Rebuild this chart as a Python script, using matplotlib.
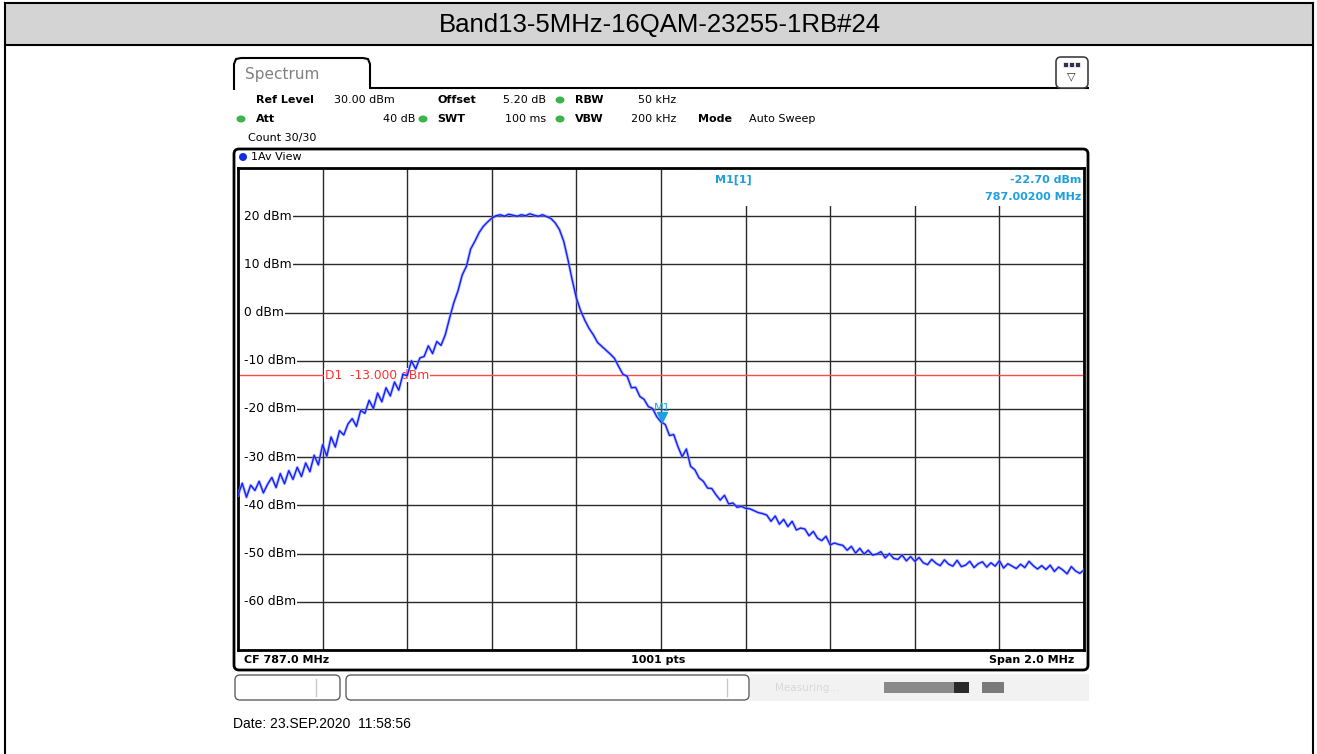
import numpy as np
import matplotlib
matplotlib.use("Agg")
import matplotlib.pyplot as plt
from matplotlib import patches
from matplotlib.path import Path

level = [
    -37.9, -35.4, -38.3, -35.8, -36.9, -35.0, -37.4, -35.6, -34.2, -36.3,
    -33.4, -35.5, -32.8, -34.6, -32.1, -34.0, -31.2, -33.0, -29.6, -31.6,
    -27.4, -29.8, -25.8, -27.9, -24.5, -25.4, -23.1, -22.0, -23.6, -20.3,
    -20.9, -18.2, -19.9, -16.7, -18.5, -15.6, -17.3, -14.4, -16.1, -12.8,
    -13.1, -10.0, -11.7, -9.4, -9.1, -6.9, -8.5, -6.0, -6.8, -4.6,
    -1.2, 2.0, 4.5, 7.8, 9.6, 13.2, 14.8, 16.6, 17.9, 18.8,
    19.6, 20.1, 20.3, 20.0, 20.4, 20.2, 20.0, 20.3, 20.1, 20.5,
    20.2, 20.0, 20.3, 19.9, 19.5, 18.6, 17.2, 14.8, 11.0, 6.8,
    3.0, 0.4, -1.6, -3.3, -4.6, -6.2, -7.0, -7.8, -8.6, -9.5,
    -11.2, -12.8, -13.2, -15.6, -15.5, -17.4, -18.0, -19.5, -19.9, -21.6,
    -22.7, -23.2, -25.5, -25.3, -27.8, -29.9, -28.3, -31.9, -32.6, -34.3,
    -35.0, -36.4, -36.5, -37.8, -38.9, -37.9, -39.7, -39.5, -40.4, -40.2,
    -40.6, -40.7, -41.1, -41.5, -41.7, -42.0, -43.3, -42.2, -43.9, -42.9,
    -44.4, -43.3, -45.1, -44.7, -44.9, -46.3, -45.4, -46.8, -47.3, -46.4,
    -48.2, -47.8, -48.1, -48.3, -49.3, -48.5, -49.9, -48.9, -50.1, -49.3,
    -50.3, -50.1, -49.6, -50.9, -50.0, -51.0, -51.2, -50.3, -51.5, -50.6,
    -51.6, -50.8, -51.9, -52.3, -51.2, -52.0, -52.5, -51.3, -52.2, -52.6,
    -51.4, -52.7, -52.4, -51.6, -52.9, -52.1, -51.7, -52.8, -51.9, -52.6,
    -51.5, -53.0, -52.1, -52.6, -53.1, -52.2, -52.9, -51.6, -52.5, -53.2,
    -52.5, -53.3, -52.4, -53.7, -52.8, -53.4, -54.2, -52.7, -53.6, -54.1, -53.4,
]
f_start, f_stop = 786.0, 788.0
freq = np.linspace(f_start, f_stop, len(level))

ref_level = 30
y_labels = [20, 10, 0, -10, -20, -30, -40, -50, -60]
limit_line = -13.0
m1_freq, m1_level = 787.002, -22.70

title = "Band13-5MHz-16QAM-23255-1RB#24"

fig = plt.figure(figsize=(13.17, 7.54), dpi=100)

# background layer in pixel coords for all the window chrome
bg = fig.add_axes([0, 0, 1, 1])
bg.set_xlim(0, 1317)
bg.set_ylim(754, 0)
bg.axis("off")

bg.add_patch(patches.Rectangle((5, 3), 1308, 42, facecolor="#d4d4d4", edgecolor="none"))
bg.plot([5, 1313], [3, 3], color="black", lw=1.5)
bg.plot([5, 1313], [45, 45], color="black", lw=1.5)
bg.plot([5, 5], [3, 754], color="black", lw=1.5)
bg.plot([1313, 1313], [3, 754], color="black", lw=1.5)
bg.text(660, 25, title, ha="center", va="center", fontsize=18.5, family="Liberation Sans")

# "Spectrum" tab
tab = Path([(234, 90), (234, 64), (236, 59), (241, 58), (363, 58), (368, 59), (370, 64),
            (370, 88), (1089, 88)])
bg.add_patch(patches.PathPatch(tab, facecolor="none", edgecolor="black", lw=1.5))
bg.text(245, 74, "Spectrum", ha="left", va="center", fontsize=11, color="#808080")

# icon top right
bg.add_patch(patches.FancyBboxPatch((1056, 57), 32, 31, boxstyle="round,pad=0,rounding_size=5",
                                    facecolor="white", edgecolor="#404040", lw=1.2))
for bx in [1063, 1069, 1075]:
    bg.add_patch(patches.Rectangle((bx, 62), 5, 5, facecolor="#303050", edgecolor="white", lw=0.5))
bg.text(1071.5, 76, "\u25bd", ha="center", va="center", fontsize=8, color="#303030")

# header settings
hdr = dict(fontsize=8, va="center", color="black")
bold = dict(fontsize=8, va="center", color="black", fontweight="bold")
bg.text(256, 100, "Ref Level", **bold)
bg.text(334, 100, "30.00 dBm", **hdr)
bg.text(438, 100, "Offset", **bold)
bg.text(546, 100, "5.20 dB", ha="right", **hdr)
bg.text(575, 100, "RBW", **bold)
bg.text(676, 100, "50 kHz", ha="right", **hdr)
bg.text(256, 119, "Att", **bold)
bg.text(415, 119, "40 dB", ha="right", **hdr)
bg.text(437, 119, "SWT", **bold)
bg.text(546, 119, "100 ms", ha="right", **hdr)
bg.text(575, 119, "VBW", **bold)
bg.text(676, 119, "200 kHz", ha="right", **hdr)
bg.text(698, 119, "Mode", **bold)
bg.text(749, 119, "Auto Sweep", **hdr)
bg.text(248, 138, "Count 30/30", **hdr)
for (dx, dy) in [(560, 100), (241, 119), (423, 119), (560, 119)]:
    bg.add_patch(patches.Ellipse((dx, dy), 9, 7, facecolor="#3cb44b", edgecolor="none"))

# window frame
bg.add_patch(patches.FancyBboxPatch((234, 149), 854, 521, boxstyle="round,pad=0,rounding_size=5",
                                    facecolor="white", edgecolor="black", lw=2))
bg.add_patch(patches.Circle((243, 157), 4, facecolor="#1030e0", edgecolor="none"))
bg.text(251, 157, "1Av View", ha="left", va="center", fontsize=8)
bg.text(244, 660, "CF 787.0 MHz", ha="left", va="center", fontsize=8, fontweight="bold")
bg.text(658, 660, "1001 pts", ha="center", va="center", fontsize=8, fontweight="bold")
bg.text(1074, 660, "Span 2.0 MHz", ha="right", va="center", fontsize=8, fontweight="bold")

# status bar
bg.add_patch(patches.Rectangle((750, 674), 339, 27, facecolor="#f2f2f2", edgecolor="none"))
bg.add_patch(patches.FancyBboxPatch((235, 675), 105, 25, boxstyle="round,pad=0,rounding_size=5",
                                    facecolor="white", edgecolor="#606060", lw=1))
bg.plot([316, 316], [679, 696], color="#c8c8c8", lw=1)
bg.add_patch(patches.FancyBboxPatch((346, 675), 403, 25, boxstyle="round,pad=0,rounding_size=5",
                                    facecolor="white", edgecolor="#606060", lw=1))
bg.plot([727, 727], [679, 696], color="#c8c8c8", lw=1)
bg.text(775, 688, "Measuring...", ha="left", va="center", fontsize=7.5, color="#d8d8d8")
bg.add_patch(patches.Rectangle((884, 682), 70, 11, facecolor="#8a8a8a", edgecolor="none"))
bg.add_patch(patches.Rectangle((954, 682), 15, 11, facecolor="#2a2a2a", edgecolor="none"))
bg.add_patch(patches.Rectangle((982, 682), 22, 11, facecolor="#7a7a7a", edgecolor="none"))

bg.text(233, 724, "Date: 23.SEP.2020  11:58:56", ha="left", va="center", fontsize=10,
        family="Liberation Sans")

# main diagram
ax = fig.add_axes([238 / 1317, (754 - 650) / 754, (1084 - 238) / 1317, (650 - 168) / 754])
ax.set_xlim(f_start, f_stop)
ax.set_ylim(ref_level - 100, ref_level)
ax.set_xticks(np.arange(f_start, f_stop + 0.01, 0.2))
ax.set_yticks(np.arange(ref_level - 100, ref_level + 1, 10))
ax.tick_params(length=0, labelbottom=False, labelleft=False)
ax.set_axisbelow(True)
ax.grid(True, color="#2a2a2a", lw=1)
for s in ax.spines.values():
    s.set_linewidth(2)

ax.add_patch(patches.Rectangle((0.545, 0.922), 0.455, 0.078, transform=ax.transAxes,
                               facecolor="white", edgecolor="none", zorder=1))

# hide the grid line left of each level label
ax.add_patch(patches.Rectangle((0, 0), 0.012, 1, transform=ax.transAxes,
                               facecolor="white", edgecolor="none", zorder=1))
for v in y_labels:
    ax.text(786.014, v, f"{v} dBm", ha="left", va="center", fontsize=8.8, zorder=3,
            bbox=dict(facecolor="white", edgecolor="none", pad=0.8))

ax.axhline(limit_line, color="#ff4a4a", lw=1, zorder=2)
ax.text(786.205, limit_line, "D1  -13.000 dBm", ha="left", va="center", fontsize=8.8,
        color="#ff3030", zorder=3, bbox=dict(facecolor="white", edgecolor="none", pad=0.5))

ax.plot(freq, level, color="#8d96ff", lw=2.2, zorder=4, alpha=0.6)
ax.plot(freq, level, color="#1020ff", lw=1.0, zorder=4)

mk = "#1e9fe0"
ax.plot([m1_freq], [m1_level + 1.0], marker="v", ms=7, color=mk, zorder=5)
ax.text(m1_freq, m1_level + 3.0, "M1", ha="center", va="center", fontsize=8, color=mk, zorder=5)
ax.text(0.585, 0.975, "M1[1]", transform=ax.transAxes, ha="center", va="center",
        fontsize=8, color=mk, fontweight="bold", zorder=5)
ax.text(0.997, 0.975, f"{m1_level:.2f} dBm", transform=ax.transAxes, ha="right", va="center",
        fontsize=8, color=mk, fontweight="bold", zorder=5)
ax.text(0.997, 0.94, f"{m1_freq:.5f} MHz", transform=ax.transAxes, ha="right", va="center",
        fontsize=8, color=mk, fontweight="bold", zorder=5)

fig.savefig("out.png", dpi=100)
